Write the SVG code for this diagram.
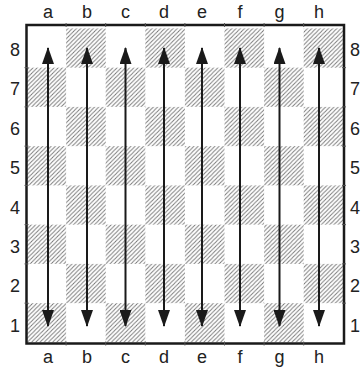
<svg xmlns="http://www.w3.org/2000/svg" width="362" height="368" viewBox="0 0 362 368">
<style>
  .lbl { font-family: "Liberation Sans", Arial, sans-serif; font-size: 18px; fill: #222; text-anchor: middle; }
  .dark { fill: url(#hatch); }
  .arr { stroke: #1a1a1a; stroke-width: 2; fill: none; marker-start: url(#head); marker-end: url(#head); }
</style>
<defs>
  <pattern id="hatch" patternUnits="userSpaceOnUse" width="4.2" height="4.2">
    <path d="M-1,1 L1,-1 M0,4.2 L4.2,0 M3.2,5.2 L5.2,3.2" stroke="#7a7a7a" stroke-width="1"/>
  </pattern>
  <marker id="head" viewBox="0 0 17 12" refX="16" refY="6" markerWidth="17" markerHeight="12" markerUnits="userSpaceOnUse" orient="auto-start-reverse">
    <path d="M0,0 L17,6 L0,12 Z" fill="#1a1a1a"/>
  </marker>
</defs>

<g id="board">
  <g id="squares">
    <rect class="dark" x="66.1" y="28.4" width="39.6" height="39.25"/>
    <rect class="dark" x="145.3" y="28.4" width="39.6" height="39.25"/>
    <rect class="dark" x="224.5" y="28.4" width="39.6" height="39.25"/>
    <rect class="dark" x="303.7" y="28.4" width="39.6" height="39.25"/>

    <rect class="dark" x="26.5" y="67.65" width="39.6" height="39.25"/>
    <rect class="dark" x="105.7" y="67.65" width="39.6" height="39.25"/>
    <rect class="dark" x="184.9" y="67.65" width="39.6" height="39.25"/>
    <rect class="dark" x="264.1" y="67.65" width="39.6" height="39.25"/>

    <rect class="dark" x="66.1" y="106.9" width="39.6" height="39.25"/>
    <rect class="dark" x="145.3" y="106.9" width="39.6" height="39.25"/>
    <rect class="dark" x="224.5" y="106.9" width="39.6" height="39.25"/>
    <rect class="dark" x="303.7" y="106.9" width="39.6" height="39.25"/>

    <rect class="dark" x="26.5" y="146.15" width="39.6" height="39.25"/>
    <rect class="dark" x="105.7" y="146.15" width="39.6" height="39.25"/>
    <rect class="dark" x="184.9" y="146.15" width="39.6" height="39.25"/>
    <rect class="dark" x="264.1" y="146.15" width="39.6" height="39.25"/>

    <rect class="dark" x="66.1" y="185.4" width="39.6" height="39.25"/>
    <rect class="dark" x="145.3" y="185.4" width="39.6" height="39.25"/>
    <rect class="dark" x="224.5" y="185.4" width="39.6" height="39.25"/>
    <rect class="dark" x="303.7" y="185.4" width="39.6" height="39.25"/>

    <rect class="dark" x="26.5" y="224.65" width="39.6" height="39.25"/>
    <rect class="dark" x="105.7" y="224.65" width="39.6" height="39.25"/>
    <rect class="dark" x="184.9" y="224.65" width="39.6" height="39.25"/>
    <rect class="dark" x="264.1" y="224.65" width="39.6" height="39.25"/>

    <rect class="dark" x="66.1" y="263.9" width="39.6" height="39.25"/>
    <rect class="dark" x="145.3" y="263.9" width="39.6" height="39.25"/>
    <rect class="dark" x="224.5" y="263.9" width="39.6" height="39.25"/>
    <rect class="dark" x="303.7" y="263.9" width="39.6" height="39.25"/>

    <rect class="dark" x="26.5" y="303.15" width="39.6" height="39.25"/>
    <rect class="dark" x="105.7" y="303.15" width="39.6" height="39.25"/>
    <rect class="dark" x="184.9" y="303.15" width="39.6" height="39.25"/>
    <rect class="dark" x="264.1" y="303.15" width="39.6" height="39.25"/>
  </g>
  <rect id="border" x="26.5" y="25" width="317.5" height="318.5" fill="none" stroke="#1a1a1a" stroke-width="2.5"/>
  <g id="ticks" stroke="#555" stroke-width="1">
    <path d="M66.1,23 V27 M105.7,23 V27 M145.3,23 V27 M184.9,23 V27 M224.5,23 V27 M264.1,23 V27 M303.7,23 V27"/>
    <path d="M66.1,341.5 V345.5 M105.7,341.5 V345.5 M145.3,341.5 V345.5 M184.9,341.5 V345.5 M224.5,341.5 V345.5 M264.1,341.5 V345.5 M303.7,341.5 V345.5"/>
    <path d="M24.5,67.65 H28.5 M24.5,106.9 H28.5 M24.5,146.15 H28.5 M24.5,185.4 H28.5 M24.5,224.65 H28.5 M24.5,263.9 H28.5 M24.5,303.15 H28.5"/>
    <path d="M342,67.65 H346 M342,106.9 H346 M342,146.15 H346 M342,185.4 H346 M342,224.65 H346 M342,263.9 H346 M342,303.15 H346"/>
  </g>
</g>

<g id="connectors">
  <line class="arr" x1="48" y1="48" x2="48" y2="326"/>
  <line class="arr" x1="87" y1="48" x2="87" y2="326"/>
  <line class="arr" x1="125.5" y1="48" x2="125.5" y2="326"/>
  <line class="arr" x1="164" y1="48" x2="164" y2="326"/>
  <line class="arr" x1="202" y1="48" x2="202" y2="326"/>
  <line class="arr" x1="240" y1="48" x2="240" y2="326"/>
  <line class="arr" x1="279.5" y1="48" x2="279.5" y2="326"/>
  <line class="arr" x1="319" y1="48" x2="319" y2="326"/>
</g>

<g id="file-labels-top">
  <text class="lbl" x="48" y="18">a</text>
  <text class="lbl" x="87" y="18">b</text>
  <text class="lbl" x="125.5" y="18">c</text>
  <text class="lbl" x="164" y="18">d</text>
  <text class="lbl" x="202" y="18">e</text>
  <text class="lbl" x="240" y="18">f</text>
  <text class="lbl" x="279.5" y="18">g</text>
  <text class="lbl" x="319" y="18">h</text>
</g>
<g id="file-labels-bottom">
  <text class="lbl" x="48" y="363">a</text>
  <text class="lbl" x="87" y="363">b</text>
  <text class="lbl" x="125.5" y="363">c</text>
  <text class="lbl" x="164" y="363">d</text>
  <text class="lbl" x="202" y="363">e</text>
  <text class="lbl" x="240" y="363">f</text>
  <text class="lbl" x="279.5" y="363">g</text>
  <text class="lbl" x="319" y="363">h</text>
</g>
<g id="rank-labels-left">
  <text class="lbl" x="15" y="56">8</text>
  <text class="lbl" x="15" y="95.4">7</text>
  <text class="lbl" x="15" y="134.8">6</text>
  <text class="lbl" x="15" y="174.2">5</text>
  <text class="lbl" x="15" y="213.6">4</text>
  <text class="lbl" x="15" y="253">3</text>
  <text class="lbl" x="15" y="292.4">2</text>
  <text class="lbl" x="15" y="331.8">1</text>
</g>
<g id="rank-labels-right">
  <text class="lbl" x="355" y="56">8</text>
  <text class="lbl" x="355" y="95.4">7</text>
  <text class="lbl" x="355" y="134.8">6</text>
  <text class="lbl" x="355" y="174.2">5</text>
  <text class="lbl" x="355" y="213.6">4</text>
  <text class="lbl" x="355" y="253">3</text>
  <text class="lbl" x="355" y="292.4">2</text>
  <text class="lbl" x="355" y="331.8">1</text>
</g>
</svg>
